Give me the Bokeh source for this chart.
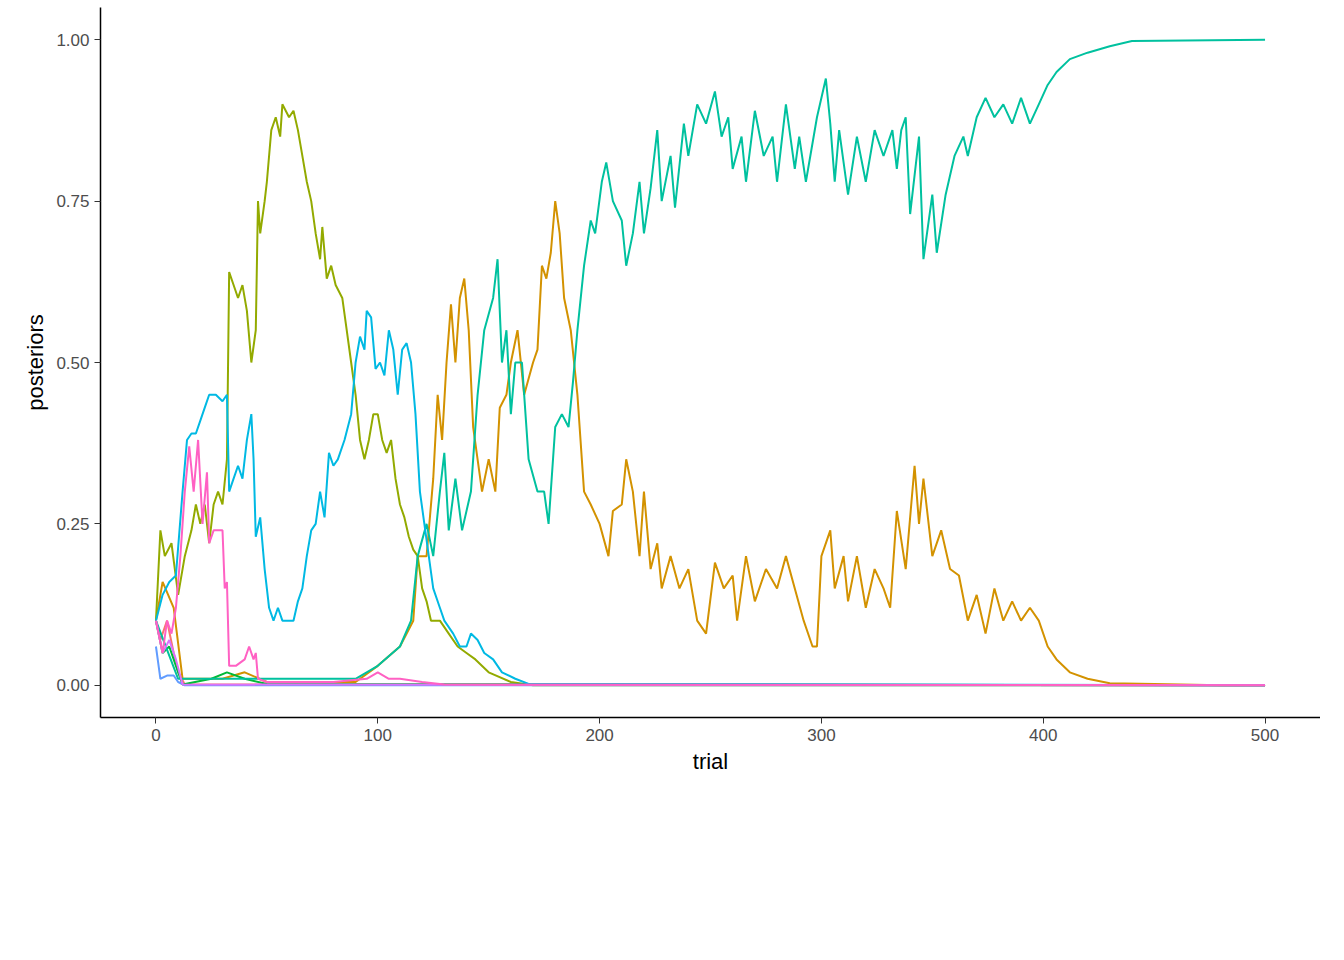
from bokeh.plotting import figure
from bokeh.models import Legend, LegendItem, NumeralTickFormatter, FixedTicker
from bokeh.embed import file_html
from bokeh.resources import INLINE

# (trial, posterior) points
s_005_0065 = [(0, 0.1), (2, 0.07), (5, 0.1), (8, 0.05), (10, 0.02), (13, 0.001), (500, 0)]
s_005_008 = [(0, 0.1), (3, 0.16), (8, 0.12), (12, 0.01), (30, 0.01), (40, 0.02), (50, 0.005), (90, 0.005),
             (100, 0.03), (110, 0.06), (116, 0.1), (118, 0.2), (122, 0.2), (125, 0.32), (127, 0.45), (129, 0.38),
             (131, 0.5), (133, 0.59), (135, 0.5), (137, 0.6), (139, 0.63), (141, 0.55), (143, 0.4), (145, 0.35),
             (147, 0.3), (150, 0.35), (153, 0.3), (155, 0.43), (158, 0.45), (160, 0.5), (163, 0.55), (166, 0.45),
             (170, 0.5), (172, 0.52), (174, 0.65), (176, 0.63), (178, 0.67), (180, 0.75), (182, 0.7), (184, 0.6),
             (187, 0.55), (190, 0.45), (193, 0.3), (196, 0.28), (200, 0.25), (204, 0.2), (206, 0.27), (210, 0.28),
             (212, 0.35), (215, 0.3), (218, 0.2), (220, 0.3), (223, 0.18), (226, 0.22), (228, 0.15), (232, 0.2),
             (236, 0.15), (240, 0.18), (244, 0.1), (248, 0.08), (252, 0.19), (256, 0.15), (260, 0.17), (262, 0.1),
             (266, 0.2), (270, 0.13), (275, 0.18), (280, 0.15), (284, 0.2), (288, 0.15), (292, 0.1), (296, 0.06),
             (298, 0.06), (300, 0.2), (304, 0.24), (306, 0.15), (310, 0.2), (312, 0.13), (316, 0.2), (320, 0.12),
             (324, 0.18), (328, 0.15), (331, 0.12), (334, 0.27), (338, 0.18), (342, 0.34), (344, 0.25), (346, 0.32),
             (350, 0.2), (354, 0.24), (358, 0.18), (362, 0.17), (366, 0.1), (370, 0.14), (374, 0.08), (378, 0.15),
             (382, 0.1), (386, 0.13), (390, 0.1), (394, 0.12), (398, 0.1), (402, 0.06), (406, 0.04), (412, 0.02),
             (420, 0.01), (430, 0.003), (450, 0.002), (480, 0.0), (500, 0)]
s_005_0095 = [(0, 0.1), (2, 0.24), (4, 0.2), (7, 0.22), (10, 0.14), (13, 0.2), (16, 0.24), (18, 0.28), (20, 0.25),
              (22, 0.28), (24, 0.22), (26, 0.28), (28, 0.3), (30, 0.28), (32, 0.35), (33, 0.64), (35, 0.62),
              (37, 0.6), (39, 0.62), (41, 0.58), (43, 0.5), (45, 0.55), (46, 0.75), (47, 0.7), (49, 0.75),
              (50, 0.78), (52, 0.86), (54, 0.88), (56, 0.85), (57, 0.9), (60, 0.88), (62, 0.89), (64, 0.86),
              (66, 0.82), (68, 0.78), (70, 0.75), (72, 0.7), (74, 0.66), (75, 0.71), (77, 0.63), (79, 0.65),
              (81, 0.62), (84, 0.6), (86, 0.55), (88, 0.5), (90, 0.45), (92, 0.38), (94, 0.35), (96, 0.38),
              (98, 0.42), (100, 0.42), (102, 0.38), (104, 0.36), (106, 0.38), (108, 0.32), (110, 0.28), (112, 0.26),
              (114, 0.23), (116, 0.21), (118, 0.2), (120, 0.15), (122, 0.13), (124, 0.1), (128, 0.1), (132, 0.08),
              (136, 0.06), (140, 0.05), (144, 0.04), (150, 0.02), (160, 0.005), (170, 0), (500, 0)]
s_006_0065 = [(0, 0.1), (3, 0.05), (6, 0.06), (9, 0.03), (12, 0.001), (25, 0.01), (32, 0.02), (40, 0.01),
              (50, 0.002), (500, 0)]
s_006_008 = [(0, 0.1), (10, 0.01), (40, 0.01), (90, 0.01), (100, 0.03), (110, 0.06), (115, 0.1), (118, 0.2),
             (122, 0.25), (125, 0.2), (128, 0.3), (130, 0.36), (132, 0.24), (135, 0.32), (138, 0.24), (142, 0.3),
             (145, 0.45), (148, 0.55), (152, 0.6), (154, 0.66), (156, 0.5), (158, 0.55), (160, 0.42), (162, 0.5),
             (165, 0.5), (168, 0.35), (172, 0.3), (175, 0.3), (177, 0.25), (180, 0.4), (183, 0.42), (186, 0.4),
             (188, 0.47), (190, 0.55), (193, 0.65), (196, 0.72), (198, 0.7), (201, 0.78), (203, 0.81), (206, 0.75),
             (210, 0.72), (212, 0.65), (215, 0.7), (218, 0.78), (220, 0.7), (223, 0.77), (226, 0.86), (228, 0.75),
             (232, 0.82), (234, 0.74), (238, 0.87), (240, 0.82), (244, 0.9), (248, 0.87), (252, 0.92), (255, 0.85),
             (258, 0.88), (260, 0.8), (264, 0.85), (266, 0.78), (270, 0.89), (274, 0.82), (278, 0.85), (280, 0.78),
             (284, 0.9), (288, 0.8), (290, 0.85), (293, 0.78), (298, 0.88), (302, 0.94), (304, 0.87), (306, 0.78),
             (308, 0.86), (312, 0.76), (316, 0.85), (320, 0.78), (324, 0.86), (328, 0.82), (332, 0.86), (334, 0.8),
             (336, 0.86), (338, 0.88), (340, 0.73), (344, 0.85), (346, 0.66), (350, 0.76), (352, 0.67), (356, 0.76),
             (360, 0.82), (364, 0.85), (366, 0.82), (370, 0.88), (374, 0.91), (378, 0.88), (382, 0.9), (386, 0.87),
             (390, 0.91), (394, 0.87), (398, 0.9), (402, 0.93), (406, 0.95), (412, 0.97), (420, 0.98), (430, 0.99),
             (440, 0.998), (500, 1.0)]
s_006_0095 = [(0, 0.1), (3, 0.14), (6, 0.16), (9, 0.17), (12, 0.3), (14, 0.38), (16, 0.39), (18, 0.39), (20, 0.41),
              (22, 0.43), (24, 0.45), (27, 0.45), (30, 0.44), (32, 0.45), (33, 0.3), (35, 0.32), (37, 0.34),
              (39, 0.32), (41, 0.38), (43, 0.42), (44, 0.35), (45, 0.23), (47, 0.26), (49, 0.18), (51, 0.12),
              (53, 0.1), (55, 0.12), (57, 0.1), (60, 0.1), (62, 0.1), (64, 0.13), (66, 0.15), (68, 0.2), (70, 0.24),
              (72, 0.25), (74, 0.3), (76, 0.26), (78, 0.36), (80, 0.34), (82, 0.35), (85, 0.38), (88, 0.42),
              (90, 0.5), (92, 0.54), (94, 0.52), (95, 0.58), (97, 0.57), (99, 0.49), (101, 0.5), (103, 0.48),
              (105, 0.55), (107, 0.52), (109, 0.45), (111, 0.52), (113, 0.53), (115, 0.5), (117, 0.42), (119, 0.3),
              (121, 0.25), (123, 0.2), (125, 0.15), (128, 0.12), (130, 0.1), (134, 0.08), (137, 0.06), (140, 0.06),
              (142, 0.08), (145, 0.07), (148, 0.05), (152, 0.04), (156, 0.02), (162, 0.01), (168, 0.002), (500, 0)]
s_007_0065 = [(0, 0.06), (2, 0.01), (5, 0.015), (8, 0.015), (10, 0.005), (13, 0), (500, 0)]
s_007_008 = [(0, 0.1), (3, 0.05), (6, 0.07), (9, 0.04), (12, 0.001), (500, 0)]
s_007_0095 = [(0, 0.1), (3, 0.05), (5, 0.1), (7, 0.08), (9, 0.12), (11, 0.2), (13, 0.3), (15, 0.37), (17, 0.3),
              (19, 0.38), (21, 0.25), (23, 0.33), (24, 0.22), (26, 0.24), (30, 0.24), (31, 0.15), (32, 0.16),
              (33, 0.03), (36, 0.03), (40, 0.04), (42, 0.06), (44, 0.04), (45, 0.05), (46, 0.01), (50, 0.005),
              (80, 0.005), (95, 0.01), (100, 0.02), (105, 0.01), (110, 0.01), (120, 0.005), (130, 0.001), (500, 0)]

labels = ["0.05, 0.065", "0.05, 0.08", "0.05, 0.095", "0.06, 0.065", "0.06, 0.08",
          "0.06, 0.095", "0.07, 0.065", "0.07, 0.08", "0.07, 0.095"]
series = [s_005_0065, s_005_008, s_005_0095, s_006_0065, s_006_008,
          s_006_0095, s_007_0065, s_007_008, s_007_0095]
colors = ["#F8766D", "#D39200", "#93AA00", "#00BA38", "#00C19F",
          "#00B9E3", "#619CFF", "#DB72FB", "#FF61C3"]

FONT = "Liberation Sans"

p = figure(width=1320, height=944, x_range=(-25, 525), y_range=(-0.05, 1.05),
           output_backend="svg", toolbar_location=None,
           min_border_left=100, min_border_right=0, min_border_top=7, min_border_bottom=227)
p.outline_line_color = None
p.xgrid.visible = False
p.ygrid.visible = False

renderers = []
for pts, c in zip(series, colors):
    r = p.line([t for t, v in pts], [v for t, v in pts], line_color=c, line_width=2)
    renderers.append(r)

for ax in (p.xaxis[0], p.yaxis[0]):
    ax.axis_line_color = "black"
    ax.axis_line_width = 1.5
    ax.major_tick_line_color = "#333333"
    ax.major_tick_out = 6
    ax.major_tick_in = 0
    ax.minor_tick_line_color = None
    ax.major_label_text_font = FONT
    ax.major_label_text_font_size = "17px"
    ax.major_label_text_color = "#4d4d4d"
    ax.axis_label_text_font = FONT
    ax.axis_label_text_font_size = "22px"
    ax.axis_label_text_font_style = "normal"
    ax.axis_label_text_color = "black"

p.xaxis.axis_label = "trial"
p.yaxis.axis_label = "posteriors"
p.xaxis.ticker = FixedTicker(ticks=[0, 100, 200, 300, 400, 500])
p.yaxis.ticker = FixedTicker(ticks=[0, 0.25, 0.5, 0.75, 1.0])
p.yaxis.formatter = NumeralTickFormatter(format="0.00")

# legend rows as in the reference (column-major order)
order = [0, 2, 4, 6, 8, 1, 3, 5, 7]
items = [LegendItem(label=labels[i], renderers=[renderers[i]]) for i in order]
legend = Legend(items=items, orientation="horizontal", ncols=5,
                label_text_font=FONT, label_text_font_size="20px",
                glyph_width=34, glyph_height=40, label_height=40, spacing=18, label_standoff=20,
                border_line_color=None, background_fill_alpha=0, margin=0, padding=0,
                location=(160, -206))
p.add_layout(legend, "center")

# legend title "m", placed left of the two rows
title_r = p.line([0], [0], line_alpha=0)
title_legend = Legend(items=[LegendItem(label="m", renderers=[title_r])],
                      label_text_font=FONT, label_text_font_size="22px",
                      glyph_width=1, glyph_height=40, label_height=40, label_standoff=0,
                      border_line_color=None, background_fill_alpha=0, margin=0, padding=0,
                      location=(116, -184))
p.add_layout(title_legend, "center")

open("out.html", "w").write(file_html(p, INLINE))
